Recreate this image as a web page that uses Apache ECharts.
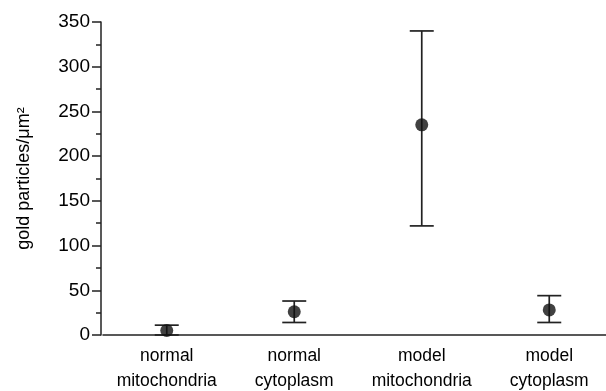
<!DOCTYPE html>
<html>
<head>
<meta charset="utf-8">
<script src="https://cdn.jsdelivr.net/npm/echarts@6/dist/echarts.min.js"></script>
<style>html,body{margin:0;padding:0;background:#fff}#c{width:606px;height:391px}</style>
</head>
<body>
<div id="c"></div>
<script>
var categories = ['normal\nmitochondria', 'normal\ncytoplasm', 'model\nmitochondria', 'model\ncytoplasm'];
var means = [5, 26, 235, 28];
var lower = [0, 14, 122, 14];
var upper = [11, 38, 340, 44];
var yTicks = [0, 50, 100, 150, 200, 250, 300, 350];

var chart = echarts.init(document.getElementById('c'));
var font = 'Liberation Sans, Arial, Helvetica, sans-serif';
var ink = '#000';

chart.setOption({
  animation: false,
  backgroundColor: '#fff',
  grid: { left: 103, right: -7, top: 22, height: 313, outerBoundsMode: 'none', containLabel: false },
  xAxis: {
    type: 'category',
    data: categories,
    boundaryGap: true,
    axisLine: { lineStyle: { color: '#222', width: 1.5 } },
    axisTick: { alignWithLabel: true, length: 6, lineStyle: { color: '#222', width: 1.5 } },
    axisLabel: { color: ink, fontSize: 17.5, fontFamily: font, lineHeight: 25, margin: 9, interval: 0 }
  },
  yAxis: {
    type: 'value',
    min: yTicks[0],
    max: yTicks[yTicks.length - 1],
    interval: 50,
    offset: 2,
    name: 'gold particles/μm²',
    nameLocation: 'middle',
    nameGap: 68,
    nameRotate: 90,
    nameTextStyle: { color: ink, fontSize: 18, fontFamily: font },
    axisLine: { show: true, lineStyle: { color: '#222', width: 1.5 } },
    axisTick: { show: true, length: 9, lineStyle: { color: '#222', width: 1.5 } },
    minorTick: { show: true, splitNumber: 2, length: 5, lineStyle: { color: '#222', width: 1.5 } },
    splitLine: { show: false },
    axisLabel: { color: ink, fontSize: 19, fontFamily: font, margin: 11 }
  },
  series: [
    {
      type: 'custom',
      data: categories.map(function (c, i) { return [i, lower[i], upper[i]]; }),
      renderItem: function (params, api) {
        var x = api.value(0);
        var lo = api.coord([x, api.value(1)]);
        var hi = api.coord([x, api.value(2)]);
        var hw = 12;
        var st = { stroke: '#222', lineWidth: 1.7 };
        return {
          type: 'group',
          children: [
            { type: 'line', shape: { x1: lo[0], y1: lo[1], x2: hi[0], y2: hi[1] }, style: st },
            { type: 'line', shape: { x1: lo[0] - hw, y1: lo[1], x2: lo[0] + hw, y2: lo[1] }, style: st },
            { type: 'line', shape: { x1: hi[0] - hw, y1: hi[1], x2: hi[0] + hw, y2: hi[1] }, style: st }
          ]
        };
      },
      z: 2
    },
    {
      type: 'scatter',
      data: categories.map(function (c, i) { return [i, means[i]]; }),
      symbol: 'circle',
      symbolSize: 13,
      itemStyle: { color: '#111' },
      z: 3
    }
  ]
});
</script>
</body>
</html>
